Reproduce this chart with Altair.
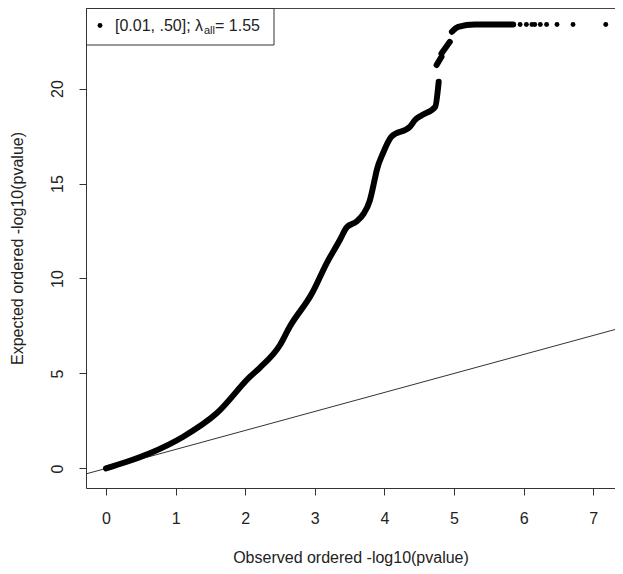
import altair as alt
import pandas as pd

# ---- data ----
# main QQ curve (observed x, expected y), split into visible segments
curve_x = [0.0, 0.3, 0.63, 1.11, 1.59, 2.07, 2.21, 2.50, 2.64, 2.96, 3.17, 3.36, 3.46, 3.60, 3.70,
           3.79, 3.86, 3.89, 3.98, 4.10, 4.37, 4.44, 4.54, 4.73, 4.78,
           4.75, 4.82,
           4.82, 4.94,
           4.97, 5.06, 5.30, 5.85]
curve_y = [0.0, 0.35, 0.80, 1.67, 2.90, 4.83, 5.30, 6.50, 7.46, 9.22, 10.8, 12.03, 12.7, 13.0, 13.4,
           14.1, 15.2, 15.7, 16.6, 17.46, 18.0, 18.34, 18.6, 19.04, 20.36,
           21.24, 21.67,
           21.85, 22.46,
           22.99, 23.25, 23.37, 23.37]
curve_seg = [1] * 25 + [2] * 2 + [3] * 2 + [4] * 4

# isolated tail points
tail_x = [5.95, 6.04, 6.12, 6.16, 6.24, 6.33, 6.48, 6.71, 7.18]
tail_y = [23.37] * 9

# y = x reference line
ref_x = [-1, 8]
ref_y = [-1, 8]

x_ticks = [0, 1, 2, 3, 4, 5, 6, 7]
y_ticks = [0, 5, 10, 15, 20]

legend_label = "[0.01, .50]; λ"
legend_sub = "all"
legend_value = "= 1.55"

x_title = "Observed ordered -log10(pvalue)"
y_title = "Expected ordered -log10(pvalue)"

# ---- chart ----
W, H = 529, 480
xdom = [-0.287, 7.313]
ydom = [-1.03, 24.24]

curve_df = pd.DataFrame({"x": curve_x, "y": curve_y, "seg": curve_seg,
                         "ord": list(range(len(curve_x)))})
tail_df = pd.DataFrame({"x": tail_x, "y": tail_y})
ref_df = pd.DataFrame({"x": ref_x, "y": ref_y})
one_df = pd.DataFrame({"k": [0]})

xs = alt.Scale(domain=xdom, nice=False, zero=False)
ys = alt.Scale(domain=ydom, nice=False, zero=False)

x_axis = alt.Axis(values=x_ticks, format="d", title=x_title, labelPadding=15, titlePadding=23.5,
                  labelAngle=0, labelAlign="center", labelBaseline="top")
y_axis = alt.Axis(values=y_ticks, format="d", title=y_title, labelPadding=14, titlePadding=24,
                  labelAngle=270, labelAlign="center", labelBaseline="bottom")

ref = alt.Chart(ref_df).mark_line(color="#333333", strokeWidth=1, clip=True).encode(
    x=alt.X("x:Q", scale=xs, axis=x_axis),
    y=alt.Y("y:Q", scale=ys, axis=y_axis),
)

curve = alt.Chart(curve_df).mark_line(color="black", strokeWidth=6, strokeCap="round",
                                      strokeJoin="round", interpolate="monotone",
                                      clip=True).encode(
    x=alt.X("x:Q", scale=xs),
    y=alt.Y("y:Q", scale=ys),
    detail="seg:N",
    order="ord:Q",
)

tail = alt.Chart(tail_df).mark_circle(color="black", size=24, opacity=1).encode(
    x=alt.X("x:Q", scale=xs),
    y=alt.Y("y:Q", scale=ys),
)

top_line = alt.Chart(one_df).mark_rule(color="#444444", strokeWidth=1).encode(
    x=alt.value(0), x2=alt.value(W), y=alt.value(0.5)
)

legend_box = alt.Chart(one_df).mark_rect(fill="white", stroke="#333333", strokeWidth=1).encode(
    x=alt.value(0.5), x2=alt.value(188), y=alt.value(0.5), y2=alt.value(37)
)
legend_dot = alt.Chart(one_df).mark_circle(color="black", size=24, opacity=1).encode(
    x=alt.value(14), y=alt.value(17.5)
)
font = "Liberation Sans"
legend_t1 = alt.Chart(one_df).mark_text(text=legend_label, align="left", baseline="middle",
                                        font=font, fontSize=16, color="#222222").encode(
    x=alt.value(29), y=alt.value(17.5)
)
legend_t2 = alt.Chart(one_df).mark_text(text=legend_sub, align="left", baseline="middle",
                                        font=font, fontSize=11, color="#222222").encode(
    x=alt.value(118), y=alt.value(22.5)
)
legend_t3 = alt.Chart(one_df).mark_text(text=legend_value, align="left", baseline="middle",
                                        font=font, fontSize=16, color="#222222").encode(
    x=alt.value(129), y=alt.value(17.5)
)

chart = alt.layer(
    ref, curve, tail, top_line, legend_box, legend_dot, legend_t1, legend_t2, legend_t3
).properties(
    width=W, height=H,
    autosize=alt.AutoSizeParams(type="none"),
    padding={"left": 78, "top": 0, "right": 0, "bottom": 78},
    background="white",
).configure_view(stroke=None).configure_axis(
    grid=False, domainColor="#333333", tickColor="#333333", labelColor="#222222",
    titleColor="#222222", labelFont=font, titleFont=font, labelFontSize=16,
    titleFontSize=16, titleFontWeight="normal", tickSize=7, domainWidth=1, tickWidth=1,
)

chart.save("out.html", embed_options={"renderer": "svg", "actions": False})
